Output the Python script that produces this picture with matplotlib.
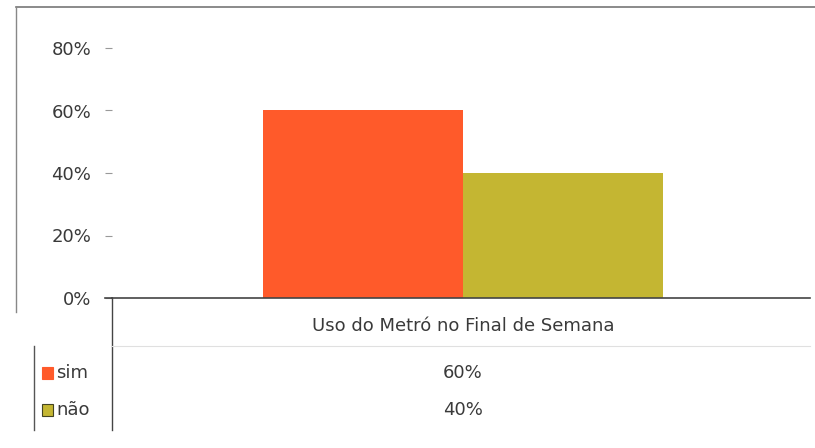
import matplotlib
matplotlib.use("Agg")
import matplotlib.pyplot as plt
from matplotlib.lines import Line2D
from matplotlib.patches import Rectangle

category = "Uso do Metró no Final de Semana"
series = ["sim", "não"]
values = [0.60, 0.40]
colors = ["#FF5A2A", "#C4B632"]
yticks = [0.0, 0.2, 0.4, 0.6, 0.8]
ytick_labels = ["0%", "20%", "40%", "60%", "80%"]

W, H = 815, 448
fig = plt.figure(figsize=(W / 100, H / 100), dpi=100)
fig.patch.set_facecolor("white")

def fx(px):
    return px / W

def fy(py):
    return 1 - py / H

FONT = "DejaVu Sans"
TXT = "#3a3a3a"
FS = 13

ax = fig.add_axes([fx(112), fy(298), fx(810) - fx(112), fy(48) - fy(298)])
ax.set_xlim(0, 1)
ax.set_ylim(0, 0.8)
bw = 200 / 698
center = (463 - 112) / 698
for i, (s, v, c) in enumerate(zip(series, values, colors)):
    x0 = center - bw + i * bw
    ax.bar(x0, v, width=bw, align="edge", color=c, edgecolor="none")

for sp in ["top", "right", "left"]:
    ax.spines[sp].set_visible(False)
ax.spines["bottom"].set_color("#444444")
ax.spines["bottom"].set_linewidth(1.2)
ax.set_xticks([])
ax.set_yticks(yticks)
ax.set_yticklabels(ytick_labels, fontsize=FS, color=TXT, family=FONT)
ax.tick_params(axis="y", length=5, width=0.8, color="#999999", pad=10)

# baseline extension to the left (tick at 0)
fig.add_artist(Line2D([fx(105), fx(112)], [fy(298), fy(298)], color="#444444", lw=1.2))

# chart frame lines
fig.add_artist(Line2D([fx(16), fx(815)], [fy(7), fy(7)], color="#777777", lw=1.2))
fig.add_artist(Line2D([fx(16), fx(16)], [fy(7), fy(312)], color="#888888", lw=1.0))

# data table
fig.add_artist(Line2D([fx(112), fx(112)], [fy(298), fy(430)], color="#444444", lw=1.0))
fig.add_artist(Line2D([fx(34), fx(34)], [fy(346), fy(430)], color="#555555", lw=1.0))
fig.add_artist(Line2D([fx(112), fx(810)], [fy(346), fy(346)], color="#e0e0e0", lw=0.8))

fig.text(fx(463), fy(326), category, ha="center", va="center", fontsize=FS, color=TXT, family=FONT)
row_y = [373, 410]
for s, v, c, ry in zip(series, values, colors, row_y):
    fig.add_artist(Rectangle((fx(42), fy(ry + 6)), fx(11), fy(0) - fy(12),
                             facecolor=c, edgecolor=("#444422" if s == "não" else c), lw=0.8))
    fig.text(fx(56), fy(ry), s, ha="left", va="center", fontsize=FS, color=TXT, family=FONT)
    fig.text(fx(463), fy(ry), f"{int(round(v * 100))}%", ha="center", va="center",
             fontsize=FS, color=TXT, family=FONT)

fig.savefig("out.png", dpi=100, facecolor="white")
